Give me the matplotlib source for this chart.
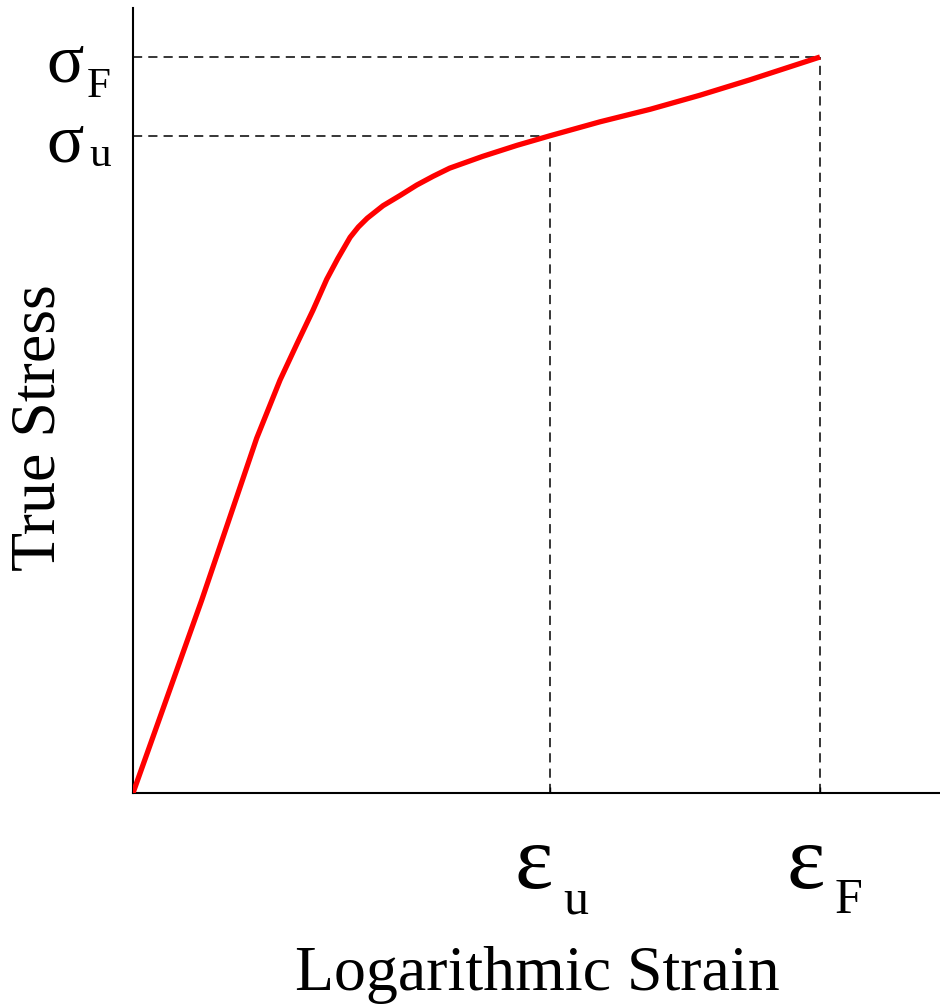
import matplotlib
matplotlib.use("Agg")
import matplotlib.pyplot as plt

# true stress vs log strain (normalised so eps_F = 1, sigma_F = 1)
strain = [0.0, 0.100, 0.180, 0.214, 0.239, 0.262, 0.282, 0.298, 0.316,
          0.328, 0.341, 0.364, 0.389, 0.413, 0.437, 0.461, 0.509, 0.559,
          0.607, 0.680, 0.753, 0.825, 0.898, 1.0]
stress = [0.0, 0.262, 0.482, 0.561, 0.611, 0.656, 0.698, 0.726, 0.755,
          0.769, 0.781, 0.798, 0.812, 0.826, 0.838, 0.849, 0.865, 0.880,
          0.893, 0.912, 0.929, 0.948, 0.969, 1.0]

eps_u = 0.607
eps_F = 1.0
sig_u = 0.893
sig_F = 1.0

plt.rcParams['font.family'] = ['Liberation Serif', 'DejaVu Serif']

fig = plt.figure(figsize=(9.4, 10.05), dpi=100)
W, H = 940.0, 1005.0
ax = fig.add_axes([133/W, (H-793)/H, 807/W, 785/H])

ax.plot(strain, stress, color='red', lw=3.8, solid_joinstyle='round',
        solid_capstyle='butt', zorder=3)

# dashed guide lines
dash = dict(color='black', lw=1.1, dashes=(6, 4), zorder=2)
ax.plot([0, eps_F], [sig_F, sig_F], **dash)
ax.plot([eps_F, eps_F], [0, sig_F], **dash)
ax.plot([0, eps_u], [sig_u, sig_u], **dash)
ax.plot([eps_u, eps_u], [0, sig_u], **dash)

ax.set_xlim(0, 807/687)
ax.set_ylim(0, 785/736)

for s in ['top', 'right']:
    ax.spines[s].set_visible(False)
for s in ['left', 'bottom']:
    ax.spines[s].set_linewidth(1.5)

ax.set_xticks([eps_u, eps_F])
ax.set_xticklabels(['', ''])
ax.set_yticks([])
ax.tick_params(axis='x', direction='in', length=4, width=1)

# symbol labels
def px(x, y):
    return x/W, 1 - y/H

fig.text(*px(46, 82), 'σ', fontsize=50, ha='left', va='baseline')
fig.text(*px(87, 97), 'F', fontsize=31, ha='left', va='baseline')
fig.text(*px(46, 161), 'σ', fontsize=50, ha='left', va='baseline')
fig.text(*px(89, 166), 'u', fontsize=31, ha='left', va='baseline')

fig.text(*px(514, 888), 'ε', fontsize=66, ha='left', va='baseline')
fig.text(*px(563, 913), 'u', fontsize=36, ha='left', va='baseline')
fig.text(*px(787, 888), 'ε', fontsize=66, ha='left', va='baseline')
fig.text(*px(835, 913), 'F', fontsize=36, ha='left', va='baseline')

fig.text(*px(537, 990), 'Logarithmic Strain', fontsize=46, ha='center', va='baseline')
fig.text(*px(40, 428), 'True Stress', fontsize=46, ha='center', va='center', rotation=90)

fig.savefig('out.png', dpi=100)
